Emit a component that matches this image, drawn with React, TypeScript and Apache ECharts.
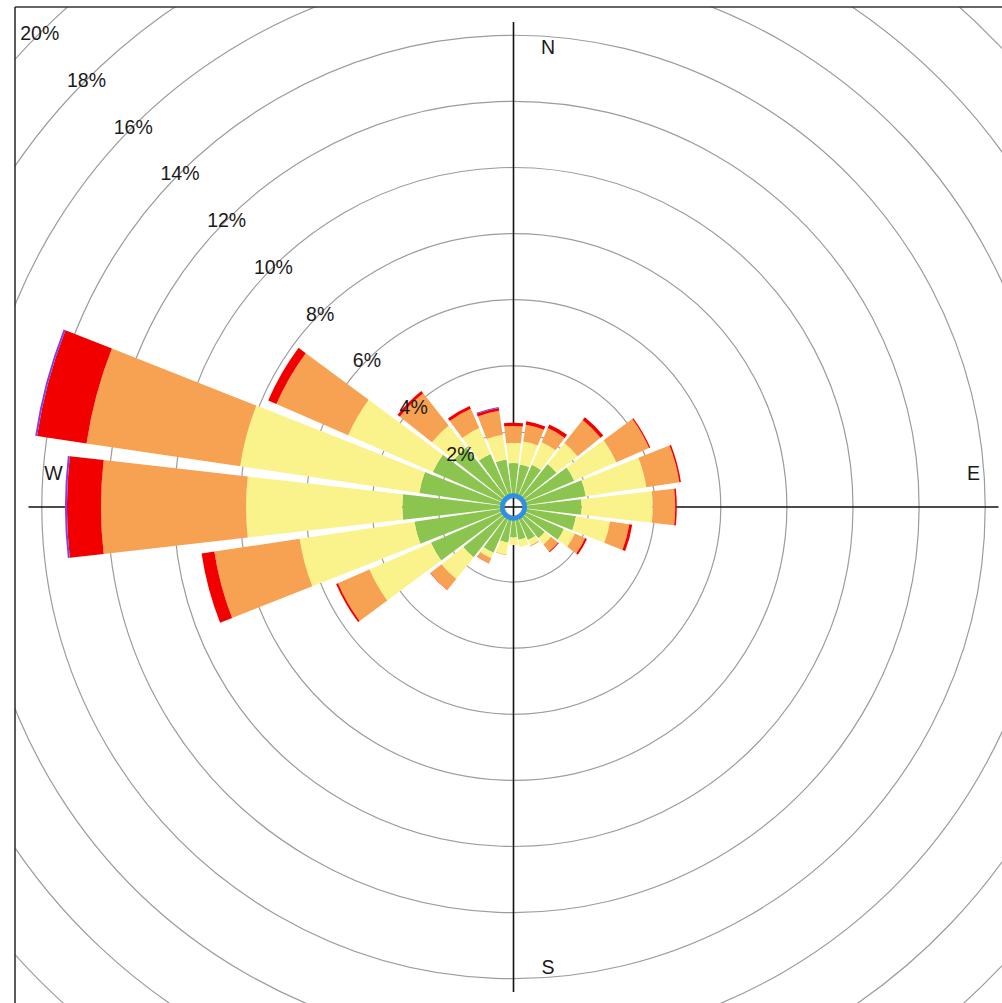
import React, { useEffect, useRef } from "react";
import * as echarts from "echarts";

// Wind directions (degrees, clockwise from north), 15-degree sectors
const directions = [
  "0", "15", "30", "45", "60", "75", "90", "105", "120", "135", "150", "165",
  "180", "195", "210", "225", "240", "255", "270", "285", "300", "315", "330", "345",
];

// Frequency (%) per speed class, per direction
const speedClass1 = [1.06, 1.03, 1.12, 1.39, 1.73, 1.94, 1.79, 1.64, 1.39, 0.94, 0.82, 0.73, 0.64, 0.82, 1.24, 1.67, 2.45, 2.76, 3.09, 2.61, 2.39, 2.03, 1.48, 1.18];
const speedClass2 = [0.61, 0.70, 0.74, 0.81, 1.39, 1.85, 2.15, 1.04, 0.36, 0.24, 0.18, 0.22, 0.24, 0.36, 0.18, 0.84, 2.03, 3.51, 4.73, 5.48, 2.79, 0.85, 0.85, 0.76];
const speedClass3 = [0.51, 0.51, 0.47, 0.89, 1.08, 1.01, 0.68, 0.59, 0.34, 0.27, 0.03, 0.0, 0.0, 0.02, 0.16, 0.43, 1.04, 2.61, 4.39, 4.70, 2.37, 1.24, 0.64, 0.73];
const speedClass4 = [0.10, 0.11, 0.12, 0.11, 0.04, 0.05, 0.05, 0.09, 0.06, 0.03, 0.0, 0.0, 0.0, 0.0, 0.01, 0.01, 0.06, 0.39, 1.03, 1.51, 0.27, 0.09, 0.09, 0.09];
const speedClass5 = [0.0, 0.0, 0.0, 0.0, 0.0, 0.0, 0.0, 0.0, 0.0, 0.0, 0.0, 0.0, 0.0, 0.0, 0.0, 0.0, 0.0, 0.0, 0.06, 0.06, 0.0, 0.0, 0.0, 0.03];

const speedSeries = [speedClass1, speedClass2, speedClass3, speedClass4, speedClass5];
const speedColors = ["#8cc450", "#faf38c", "#f7a152", "#f20000", "#7b3ff0"];

// Radial ticks (%)
const ringTicks = [2, 4, 6, 8, 10, 12, 14, 16, 18, 20];
const compassLabels = [
  { text: "N", angle: 0 },
  { text: "E", angle: 90 },
  { text: "S", angle: 180 },
  { text: "W", angle: 270 },
];

const W = 1002;
const H = 1003;
const CX = 513.5;
const CY = 507;
const R_IN = 9;
const R_OUT = 670;
const R_MAX = 20;
const FONT = "'Liberation Sans', Arial, Helvetica, sans-serif";

function radiusOf(v: number) {
  return R_IN + (v * (R_OUT - R_IN)) / R_MAX;
}

export default function App() {
  const ref = useRef<HTMLDivElement>(null);

  useEffect(() => {
    if (!ref.current) return;
    const chart = echarts.init(ref.current, null, { renderer: "svg" });

    const graphics: any[] = [];
    const axisHalf = 485;
    // cross axes
    graphics.push({
      type: "line",
      shape: { x1: CX, y1: CY - axisHalf, x2: CX, y2: CY + axisHalf },
      style: { stroke: "#111", lineWidth: 1.6 },
      z: 1,
      silent: true,
    });
    graphics.push({
      type: "line",
      shape: { x1: CX - axisHalf, y1: CY, x2: CX + axisHalf, y2: CY },
      style: { stroke: "#111", lineWidth: 1.6 },
      z: 1,
      silent: true,
    });
    // central ring
    graphics.push({
      type: "circle",
      shape: { cx: CX, cy: CY, r: 11.3 },
      style: { fill: "none", stroke: "#2e8fe8", lineWidth: 4.5 },
      z: 10,
      silent: true,
    });
    // masks outside the frame
    graphics.push({ type: "rect", shape: { x: 0, y: 0, width: 15, height: H }, style: { fill: "#fff" }, z: 20, silent: true });
    graphics.push({ type: "rect", shape: { x: 0, y: 0, width: W, height: 7 }, style: { fill: "#fff" }, z: 20, silent: true });
    // frame
    graphics.push({ type: "line", shape: { x1: 15, y1: 7, x2: 15, y2: H }, style: { stroke: "#333", lineWidth: 1.6 }, z: 21, silent: true });
    graphics.push({ type: "line", shape: { x1: 15, y1: 7, x2: W, y2: 7 }, style: { stroke: "#333", lineWidth: 1.6 }, z: 21, silent: true });
    // ring labels along NW
    const d45 = Math.SQRT1_2;
    ringTicks.forEach((v) => {
      const r = radiusOf(v);
      graphics.push({
        type: "text",
        x: CX - r * d45,
        y: CY - r * d45,
        style: {
          text: v + "%",
          fontSize: 19.5,
          fontFamily: FONT,
          fill: "#1a1a1a",
          align: "center",
          verticalAlign: "middle",
        },
        z: 22,
        silent: true,
      });
    });
    // compass labels
    const labelR = 460;
    const labelOff = 34.5;
    compassLabels.forEach((c) => {
      const a = (c.angle * Math.PI) / 180;
      const ux = Math.sin(a);
      const uy = -Math.cos(a);
      // perpendicular offset: N/S to the right, E/W upward
      const px = c.angle === 0 || c.angle === 180 ? labelOff : 0;
      const py = c.angle === 90 || c.angle === 270 ? -labelOff : 0;
      graphics.push({
        type: "text",
        x: CX + ux * labelR + px,
        y: CY + uy * labelR + py,
        style: {
          text: c.text,
          fontSize: 19.5,
          fontFamily: FONT,
          fill: "#1a1a1a",
          align: "center",
          verticalAlign: "middle",
        },
        z: 22,
        silent: true,
      });
    });

    chart.setOption({
      animation: false,
      polar: { center: [CX, CY], radius: [R_IN, R_OUT] },
      angleAxis: {
        type: "category",
        data: directions,
        startAngle: 97.5,
        clockwise: true,
        axisLine: { show: false },
        axisTick: { show: false },
        axisLabel: { show: false },
        splitLine: { show: false },
        splitArea: { show: false },
      },
      radiusAxis: {
        type: "value",
        min: 0,
        max: R_MAX,
        interval: 2,
        axisLine: { show: false },
        axisTick: { show: false },
        axisLabel: { show: false },
        splitLine: { show: true, lineStyle: { color: "#9c9c9c", width: 1.2 } },
      },
      series: speedSeries.map((data, i) => ({
        type: "bar",
        coordinateSystem: "polar",
        stack: "wind",
        name: "class" + (i + 1),
        data,
        barCategoryGap: "13%",
        itemStyle: { color: speedColors[i] },
        silent: true,
        z: 2,
      })),
      graphic: { elements: graphics },
    });

    return () => chart.dispose();
  }, []);

  return (
    <div
      ref={ref}
      style={{ position: "fixed", left: 0, top: 0, width: W, height: H, background: "#fff" }}
    />
  );
}
